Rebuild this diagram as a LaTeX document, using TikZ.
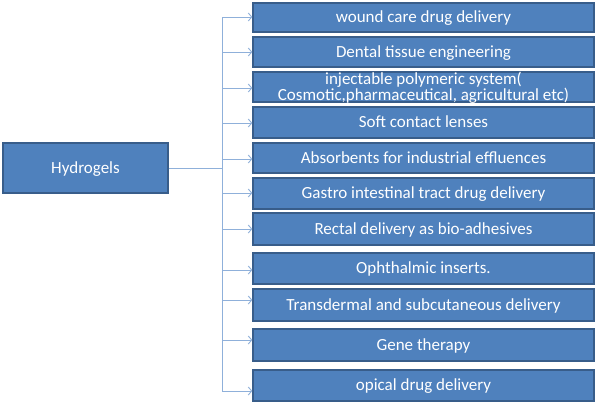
\documentclass[tikz,border=0pt]{standalone}
\usepackage{fontspec}
\setmainfont{Carlito}
\usetikzlibrary{arrows.meta}
\definecolor{boxfill}{HTML}{4F81BD}
\definecolor{boxline}{HTML}{385D8A}
\definecolor{connc}{HTML}{8FB0DA}
\begin{document}
\begin{tikzpicture}[x=1pt,y=-1pt,
  bx/.style={draw=boxline, line width=1.3pt, fill=boxfill, text=white,
    font=\fontsize{17}{18}\selectfont, align=center, inner sep=0pt,
    text height=13pt, text depth=2.5pt},
  wide/.style={bx, minimum width=341pt},
  txt/.style={text=white, font=\fontsize{17}{16}\selectfont, align=center, inner sep=0pt},
  conn/.style={draw=connc, line width=1pt},
  arr/.style={conn, -{Straight Barb[length=3.5pt,width=8pt,line width=0.9pt]}}]
\useasboundingbox (0,0) rectangle (596,402);
% source
\node[bx, minimum width=165pt, minimum height=50pt] (h) at (85.5,168) {Hydrogels};
% targets
\node[wide, minimum height=29pt] (b1) at (423.5,17.5) {wound care drug delivery};
\node[wide, minimum height=30pt] (b2) at (423.5,52) {Dental tissue engineering};
\node[wide, minimum height=30pt] (b3) at (423.5,87) {};
\node[txt, yshift=-1pt] (b3t) at (423.5,87) {injectable polymeric system(\\Cosmotic,pharmaceutical, agricultural etc)};
\node[wide, minimum height=31pt] (b4) at (423.5,122.5) {Soft contact lenses};
\node[wide, minimum height=30pt] (b5) at (423.5,158) {Absorbents for industrial effluences};
\node[wide, minimum height=31pt] (b6) at (423.5,193.5) {Gastro intestinal tract drug delivery};
\node[wide, minimum height=32pt] (b7) at (423.5,229) {Rectal delivery as bio-adhesives};
\node[wide, minimum height=31pt] (b8) at (423.5,268.5) {Ophthalmic inserts.};
\node[wide, minimum height=32pt] (b9) at (423.5,305) {Transdermal and subcutaneous delivery};
\node[wide, minimum height=32pt] (b10) at (423.5,345) {Gene therapy};
\node[wide, minimum height=31pt] (b11) at (423.5,385.5) {opical drug delivery};
% trunk
\coordinate (a1) at (222,17);
\coordinate (a2) at (222,52);
\coordinate (a3) at (222,88);
\coordinate (a4) at (222,123);
\coordinate (a5) at (222,159);
\coordinate (a6) at (222,193);
\coordinate (a7) at (222,229);
\coordinate (a8) at (222,270);
\coordinate (a9) at (222,300);
\coordinate (a10) at (222,340);
\coordinate (a11) at (222,391);
\draw[conn] (h.east) -- (h.east -| a1);
\draw[conn] (a1) -- (a11);
\foreach \i in {1,...,11}{
  \draw[arr] (a\i) -- (a\i -| b\i.west);
}
\end{tikzpicture}
\end{document}
